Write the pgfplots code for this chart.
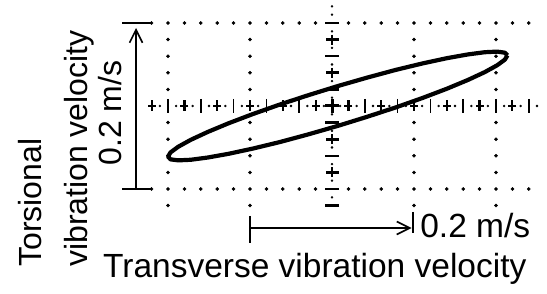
\documentclass[border=0pt]{standalone}
\usepackage{fontspec}
\setmainfont{Liberation Sans}
\usepackage{pgfplots}
\pgfplotsset{compat=1.18}
\usetikzlibrary{arrows.meta}
\begin{document}
\begin{tikzpicture}
\begin{axis}[width=547pt,height=294pt,scale only axis,hide axis,clip=false,
  xmin=-0.40488,xmax=0.26220,ymin=-0.22651,ymax=0.12771]
\path (rel axis cs:0,0) rectangle (rel axis cs:1,1);
% graticule rows y=+-0.1
\addplot[only marks,mark=*,mark size=1.6pt,black] coordinates {
(-0.22,0.1)(-0.20,0.1)(-0.18,0.1)(-0.16,0.1)(-0.14,0.1)(-0.12,0.1)(-0.10,0.1)(-0.08,0.1)(-0.06,0.1)(-0.04,0.1)(-0.02,0.1)
(0.02,0.1)(0.04,0.1)(0.06,0.1)(0.08,0.1)(0.10,0.1)(0.12,0.1)(0.14,0.1)(0.16,0.1)(0.18,0.1)(0.20,0.1)(0.22,0.1)(0.24,0.1)
(-0.22,-0.1)(-0.20,-0.1)(-0.18,-0.1)(-0.16,-0.1)(-0.14,-0.1)(-0.12,-0.1)(-0.10,-0.1)(-0.08,-0.1)(-0.06,-0.1)(-0.04,-0.1)(-0.02,-0.1)
(0.02,-0.1)(0.04,-0.1)(0.06,-0.1)(0.08,-0.1)(0.10,-0.1)(0.12,-0.1)(0.14,-0.1)(0.16,-0.1)(0.18,-0.1)(0.20,-0.1)(0.22,-0.1)(0.24,-0.1)
};
% graticule columns
\addplot[only marks,mark=*,mark size=1.6pt,black] coordinates {
(-0.2,0.08)(-0.2,0.06)(-0.2,0.04)(-0.2,0.02)(-0.2,-0.02)(-0.2,-0.04)(-0.2,-0.06)(-0.2,-0.08)(-0.2,-0.12)
(-0.1,0.08)(-0.1,0.06)(-0.1,0.04)(-0.1,0.02)(-0.1,-0.02)(-0.1,-0.04)(-0.1,-0.06)(-0.1,-0.08)(-0.1,-0.12)
(0.1,0.08)(0.1,0.06)(0.1,0.04)(0.1,0.02)(0.1,-0.02)(0.1,-0.04)(0.1,-0.06)(0.1,-0.08)(0.1,-0.12)
(0.2,0.08)(0.2,0.06)(0.2,0.04)(0.2,0.02)(0.2,-0.02)(0.2,-0.04)(0.2,-0.06)(0.2,-0.08)(0.2,-0.12)
};
% centre row: small dots
\addplot[only marks,mark=*,mark size=1.0pt,black] coordinates {
(-0.21,0)(-0.19,0)(-0.17,0)(-0.15,0)(-0.13,0)(-0.11,0)(-0.09,0)(-0.07,0)(-0.05,0)(-0.03,0)(-0.01,0)
(0.01,0)(0.03,0)(0.05,0)(0.07,0)(0.09,0)(0.11,0)(0.13,0)(0.15,0)(0.17,0)(0.19,0)(0.21,0)(0.23,0)(0.25,0)
};
% centre row: vertical ticks
\addplot[only marks,mark=|,mark size=7pt,line width=1.6pt,black] coordinates {
(-0.20,0)(-0.16,0)(-0.12,0)(-0.08,0)(-0.04,0)(0.04,0)(0.08,0)(0.12,0)(0.16,0)(0.20,0)(0.24,0)
};
% centre row: crosses
\addplot[only marks,mark=|,mark size=5.5pt,line width=2.2pt,black] coordinates {
(-0.22,0)(-0.18,0)(-0.14,0)(-0.10,0)(-0.06,0)(-0.02,0)(0.02,0)(0.06,0)(0.10,0)(0.14,0)(0.18,0)(0.22,0)
};
\addplot[only marks,mark=-,mark size=4pt,line width=2.8pt,black] coordinates {
(-0.22,0)(-0.18,0)(-0.14,0)(-0.10,0)(-0.06,0)(-0.02,0)(0.02,0)(0.06,0)(0.10,0)(0.14,0)(0.18,0)(0.22,0)
};
% centre column: small dots
\addplot[only marks,mark=*,mark size=1.0pt,black] coordinates {
(0,0.12)(0,0.11)(0,0.09)(0,0.07)(0,0.05)(0,0.03)(0,0.01)(0,-0.01)(0,-0.03)(0,-0.05)(0,-0.07)(0,-0.09)(0,-0.11)
};
% centre column: dashes
\addplot[only marks,mark=-,mark size=7pt,line width=2.5pt,black] coordinates {
(0,0.1)(0,0.06)(0,0.02)(0,-0.02)(0,-0.06)(0,-0.1)(0,-0.12)
};
% centre column: crosses
\addplot[only marks,mark=-,mark size=6.5pt,line width=3pt,black] coordinates {
(0,0.08)(0,0.04)(0,-0.04)(0,-0.08)
};
\addplot[only marks,mark=|,mark size=5pt,line width=2.2pt,black] coordinates {
(0,0.08)(0,0.04)(0,-0.04)(0,-0.08)
};
% big centre cross
\addplot[only marks,mark=+,mark size=7pt,line width=3pt,black] coordinates {(0,0)};
% Lissajous ellipse
\addplot[black,line width=4.2pt,line join=round,mark=none] coordinates {
(0.2140,0.0610)(0.2109,0.0642)(0.2015,0.0655)(0.1863,0.0648)(0.1656,0.0621)(0.1401,0.0576)
(0.1105,0.0513)(0.0778,0.0435)(0.0429,0.0342)(0.0070,0.0240)(-0.0289,0.0130)(-0.0638,0.0017)
(-0.0965,-0.0097)(-0.1261,-0.0208)(-0.1516,-0.0313)(-0.1723,-0.0408)(-0.1875,-0.0491)(-0.1969,-0.0559)
(-0.2000,-0.0610)(-0.1969,-0.0643)(-0.1875,-0.0655)(-0.1723,-0.0648)(-0.1516,-0.0621)(-0.1261,-0.0576)
(-0.0965,-0.0513)(-0.0638,-0.0435)(-0.0289,-0.0342)(0.0070,-0.0240)(0.0429,-0.0130)(0.0778,-0.0017)
(0.1105,0.0097)(0.1401,0.0208)(0.1656,0.0313)(0.1863,0.0408)(0.2015,0.0491)(0.2109,0.0559)
(0.2140,0.0610)
};
% scale arrows
\draw[line width=1.6pt] (axis cs:-0.2560,0.1) -- (axis cs:-0.2200,0.1);
\draw[line width=1.6pt] (axis cs:-0.2560,-0.1) -- (axis cs:-0.2200,-0.1);
\draw[line width=1.6pt,-{Straight Barb[length=13pt,width=13pt]}] (axis cs:-0.2390,-0.1) -- (axis cs:-0.2390,0.094);
\draw[line width=1.6pt] (axis cs:-0.1,-0.1325) -- (axis cs:-0.1,-0.1651);
\draw[line width=1.6pt] (axis cs:0.0988,-0.1277) -- (axis cs:0.0988,-0.1530);
\draw[line width=1.6pt,-{Straight Barb[length=13pt,width=13pt]}] (axis cs:-0.1,-0.1470) -- (axis cs:0.0970,-0.1470);
% labels
\node[rotate=90,anchor=base west,inner sep=0pt,font=\fontsize{32}{38}\selectfont] at (axis cs:-0.3537,-0.194) {Torsional};
\node[rotate=90,anchor=base west,inner sep=0pt,font=\fontsize{32}{38}\selectfont] at (axis cs:-0.2976,-0.194) {vibration velocity};
\node[rotate=90,anchor=base,inner sep=0pt,font=\fontsize{32}{38}\selectfont] at (axis cs:-0.2561,-0.0084) {0.2 m/s};
\node[anchor=base west,inner sep=0pt,font=\fontsize{33.5}{40}\selectfont] at (axis cs:0.1075,-0.1590) {0.2 m/s};
\node[anchor=base west,inner sep=0pt,font=\fontsize{33.5}{40}\selectfont] at (axis cs:-0.2793,-0.2072) {Transverse vibration velocity};
\end{axis}
\end{tikzpicture}
\end{document}
